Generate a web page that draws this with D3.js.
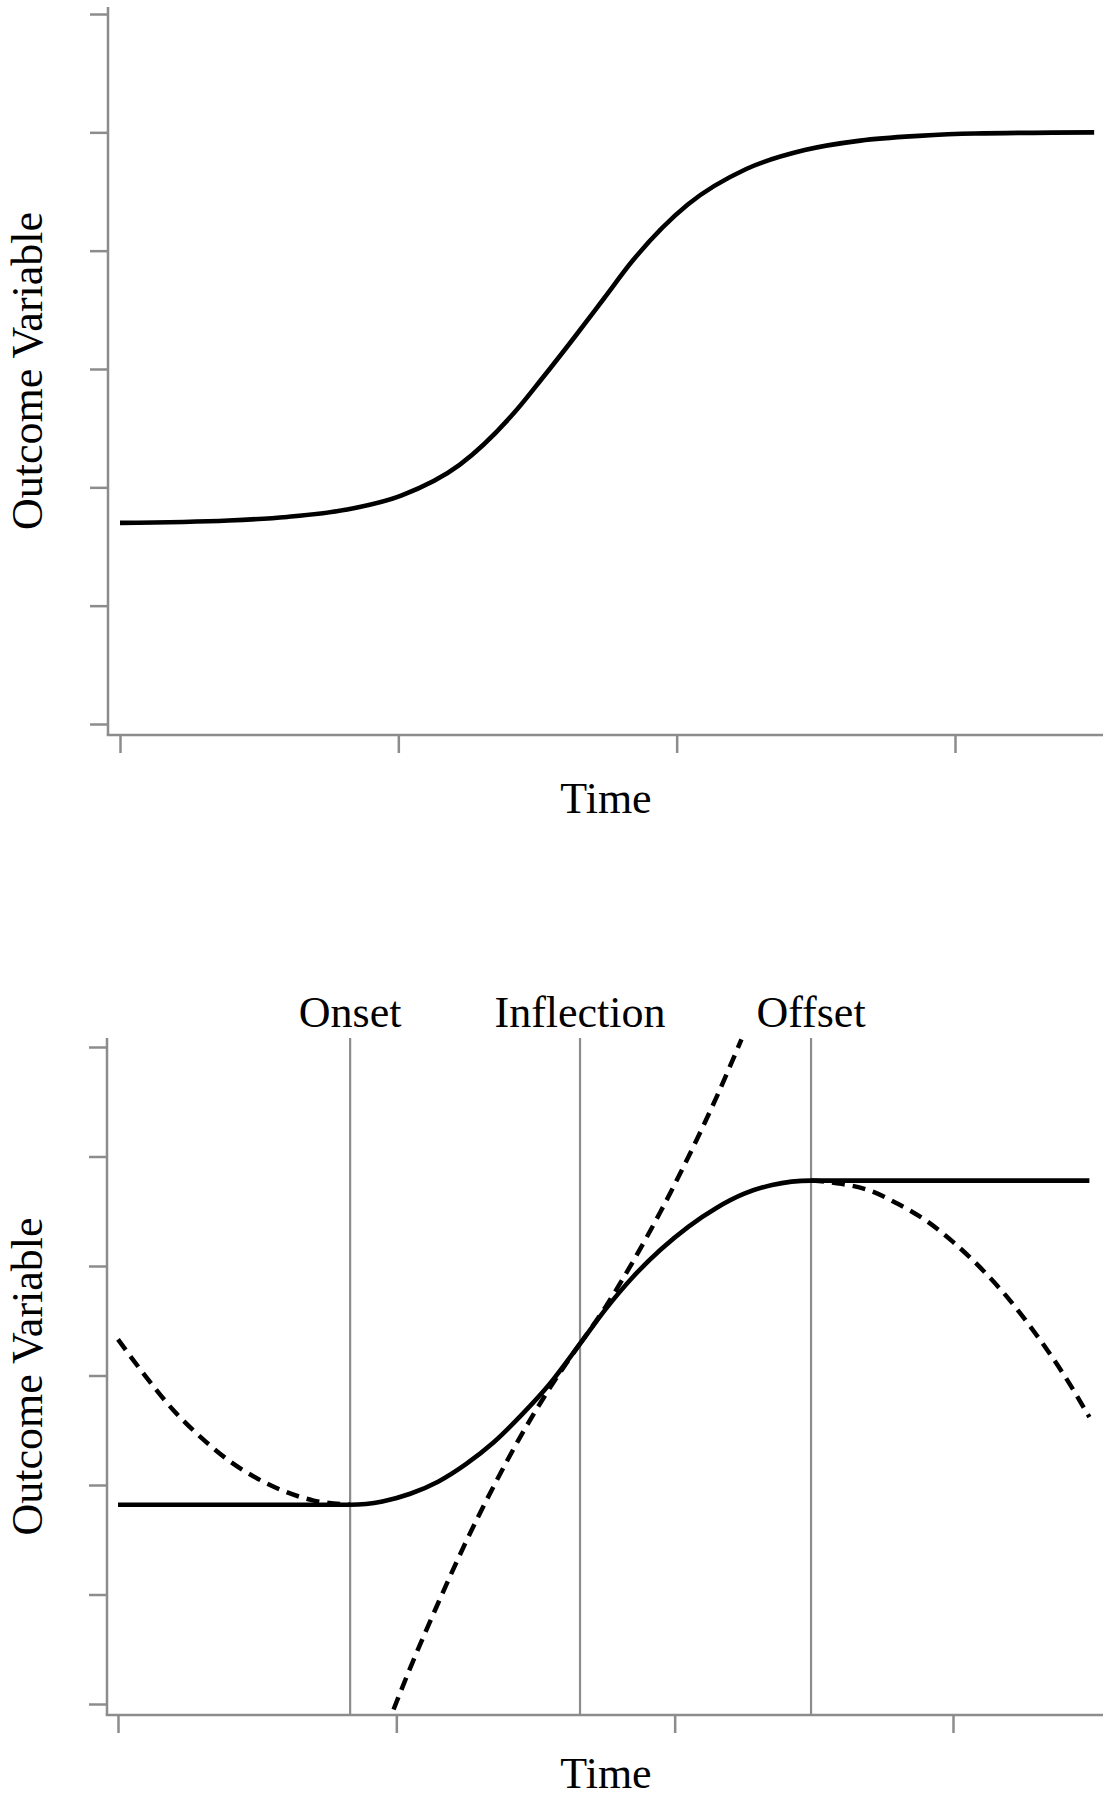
<!DOCTYPE html>
<html>
<head>
<meta charset="utf-8">
<script src="https://cdn.jsdelivr.net/npm/d3@7"></script>
<style>
  html, body { margin: 0; padding: 0; background: #fff; }
  svg { display: block; }
  text { font-family: "Liberation Serif", "Times New Roman", serif; fill: #000; }
</style>
</head>
<body>
<script>
// ---------- data ----------
const xTickValues = [0, 1, 2, 3];
const yTickValues = [0, 1, 2, 3, 4, 5, 6];

// Top panel: sigmoid growth curve
const topTime  = [0, 0.39, 0.6, 0.81, 1.01, 1.22, 1.42, 1.52, 1.63, 1.74, 1.84, 2.04, 2.25, 2.46, 2.66, 2.87, 3.07, 3.5];
const topValue = [1.70, 1.72, 1.75, 1.81, 1.93, 2.19, 2.64, 2.93, 3.26, 3.60, 3.91, 4.39, 4.69, 4.85, 4.93, 4.97, 4.99, 5.0];

// Bottom panel: piecewise model (solid)
const solidTime  = [0, 0.834, 0.95, 1.05, 1.15, 1.25, 1.35, 1.45, 1.55, 1.66, 1.75, 1.85, 1.95, 2.05, 2.15, 2.25, 2.35, 2.49, 3.49];
const solidValue = [1.82, 1.82, 1.85, 1.92, 2.03, 2.19, 2.39, 2.64, 2.92, 3.29, 3.60, 3.90, 4.15, 4.36, 4.53, 4.66, 4.74, 4.78, 4.78];

// Bottom panel: extension of the first (accelerating) segment, dashed
const dashALeftTime   = [0, 0.1, 0.2, 0.3, 0.4, 0.5, 0.6, 0.7, 0.834];
const dashALeftValue  = [3.33, 2.99, 2.68, 2.43, 2.22, 2.06, 1.94, 1.86, 1.82];
const dashARightTime  = [1.66, 1.75, 1.85, 1.95, 2.05, 2.15, 2.24];
const dashARightValue = [3.29, 3.62, 4.04, 4.50, 5.00, 5.54, 6.07];

// Bottom panel: extension of the second (decelerating) segment, dashed
const dashBLeftTime   = [0.99, 1.05, 1.15, 1.25, 1.35, 1.45, 1.55, 1.66];
const dashBLeftValue  = [-0.05, 0.33, 0.92, 1.48, 1.99, 2.46, 2.88, 3.29];
const dashBRightTime  = [2.49, 2.6, 2.7, 2.8, 2.9, 3.0, 3.1, 3.2, 3.3, 3.4, 3.49];
const dashBRightValue = [4.78, 4.75, 4.69, 4.57, 4.42, 4.22, 3.98, 3.70, 3.37, 3.00, 2.62];

// Reference lines
const markerNames = ["Onset", "Inflection", "Offset"];
const markerTimes = [0.834, 1.66, 2.49];

// ---------- drawing ----------
const W = 1111, H = 1800;
const axisColor = "#8c8c8c";
const svg = d3.select("body").append("svg").attr("width", W).attr("height", H);

function zip(ts, vs) { return ts.map((t, i) => ({t: t, v: vs[i]})); }

function panel(cfg) {
  const g = svg.append("g");
  const x = d3.scaleLinear().domain([0, 3]).range([cfg.x0, cfg.x3]);
  const y = d3.scaleLinear().domain([0, 6]).range([cfg.y0, cfg.y6]);

  const ya = g.append("g").attr("transform", `translate(${cfg.axisX},0)`)
    .call(d3.axisLeft(y).tickValues(yTickValues).tickSize(18).tickFormat(""));
  ya.select(".domain").remove();
  ya.selectAll(".tick line").attr("stroke", axisColor).attr("stroke-width", 2.5);

  const xa = g.append("g").attr("transform", `translate(0,${cfg.axisY})`)
    .call(d3.axisBottom(x).tickValues(xTickValues).tickSize(18).tickFormat(""));
  xa.select(".domain").remove();
  xa.selectAll(".tick line").attr("stroke", axisColor).attr("stroke-width", 2.5);

  g.append("line").attr("x1", cfg.axisX).attr("x2", cfg.axisX)
    .attr("y1", cfg.axisTop).attr("y2", cfg.axisY)
    .attr("stroke", axisColor).attr("stroke-width", 2.5);
  g.append("line").attr("x1", cfg.axisX - 1.25).attr("x2", cfg.axisRight)
    .attr("y1", cfg.axisY).attr("y2", cfg.axisY)
    .attr("stroke", axisColor).attr("stroke-width", 2.5);

  g.append("text").attr("x", cfg.titleX).attr("y", cfg.titleY)
    .attr("text-anchor", "middle").attr("font-size", 44).text("Time");
  g.append("text")
    .attr("transform", `translate(42,${(cfg.axisTop + cfg.axisY) / 2}) rotate(-90)`)
    .attr("text-anchor", "middle").attr("font-size", 44).text("Outcome Variable");

  return {g, x, y};
}

const line = (x, y) => d3.line().x(d => x(d.t)).y(d => y(d.v)).curve(d3.curveMonotoneX);

// ---- top panel ----
const P1 = panel({x0: 120, x3: 955, y0: 724, y6: 14, axisX: 108, axisY: 735, axisTop: 7,
                  axisRight: 1103, titleX: 606, titleY: 813});
P1.g.append("path").datum(zip(topTime, topValue))
  .attr("d", line(P1.x, P1.y)).attr("fill", "none")
  .attr("stroke", "#000").attr("stroke-width", 4.6);

// ---- bottom panel ----
const P2 = panel({x0: 118, x3: 953, y0: 1704, y6: 1047, axisX: 107, axisY: 1715, axisTop: 1038,
                  axisRight: 1103, titleX: 606, titleY: 1788});

markerTimes.forEach((t, i) => {
  P2.g.append("line").attr("x1", P2.x(t)).attr("x2", P2.x(t))
    .attr("y1", 1038).attr("y2", 1715)
    .attr("stroke", axisColor).attr("stroke-width", 2.2);
  P2.g.append("text").attr("x", P2.x(t)).attr("y", 1027)
    .attr("text-anchor", "middle").attr("font-size", 44).text(markerNames[i]);
});

[[dashALeftTime, dashALeftValue], [dashARightTime, dashARightValue],
 [dashBLeftTime, dashBLeftValue], [dashBRightTime, dashBRightValue]].forEach(([ts, vs]) => {
  P2.g.append("path").datum(zip(ts, vs))
    .attr("d", line(P2.x, P2.y)).attr("fill", "none")
    .attr("stroke", "#000").attr("stroke-width", 4.5)
    .attr("stroke-dasharray", "13,8");
});

P2.g.append("path").datum(zip(solidTime, solidValue))
  .attr("d", line(P2.x, P2.y)).attr("fill", "none")
  .attr("stroke", "#000").attr("stroke-width", 4.6);
</script>
</body>
</html>
